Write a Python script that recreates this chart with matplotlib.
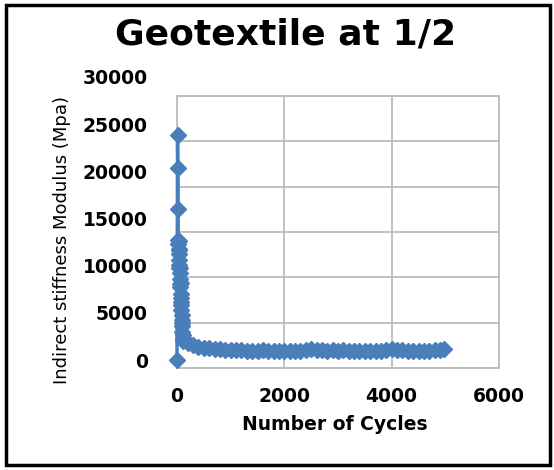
import matplotlib
matplotlib.use("Agg")
import matplotlib.pyplot as plt
from matplotlib.patches import Rectangle

plt.rcParams['font.family'] = ['DejaVu Sans']

# readings: first points, then the dense early cluster, then the long tail
cycles_start = [0, 10, 15, 20]
modulus_start = [0, 23900, 20400, 16000]

cycles_cluster = [22, 25, 28, 30, 33, 36, 40, 43, 46, 50, 53, 56, 60, 63, 66,
                  70, 73, 76, 80, 83, 86, 90, 93, 96, 100, 105, 110, 115, 120]
modulus_cluster = [12700, 12300, 12600, 11800, 11200, 11700, 10600, 10100, 9700,
                   9200, 9800, 8600, 8100, 7700, 8200, 7000, 6600, 6100, 5800,
                   5300, 4800, 4200, 3600, 3900, 3000, 2600, 2300, 2000, 2200]

cycles_tail = [200, 300, 400, 500, 600, 700, 800, 900, 1000, 1100, 1200, 1300,
               1400, 1500, 1600, 1700, 1800, 1900, 2000, 2100, 2200, 2300, 2400,
               2500, 2600, 2700, 2800, 2900, 3000, 3100, 3200, 3300, 3400, 3500,
               3600, 3700, 3800, 3900, 4000, 4100, 4200, 4300, 4400, 4500, 4600,
               4700, 4800, 4900, 4980]
modulus_tail = [1800, 1600, 1400, 1300, 1250, 1200, 1150, 1100, 1100, 1050, 1050,
                1000, 1000, 1000, 1050, 1000, 1000, 950, 1000, 950, 1000, 1000,
                1050, 1200, 1100, 1050, 1000, 1050, 1000, 1050, 1000, 950, 1000,
                950, 950, 950, 1000, 1050, 1150, 1100, 1050, 1000, 950, 950,
                1000, 1000, 1050, 1100, 1150]

x_ticks = [0, 2000, 4000, 6000]
y_ticks = [0, 5000, 10000, 15000, 20000, 25000, 30000]

cycles = cycles_start + cycles_cluster + cycles_tail
modulus = modulus_start + modulus_cluster + modulus_tail

W, H = 554, 470
fig = plt.figure(figsize=(W / 100, H / 100), dpi=100)

def box(l, t, r, b):
    return [l / W, 1 - b / H, (r - l) / W, (b - t) / H]

# plot frame with gridlines
ax = fig.add_axes(box(177, 96, 499, 368))
ax.set_xlim(0, 6000)
ax.set_ylim(0, 30000)
ax.set_xticks(x_ticks)
ax.set_yticks(y_ticks)
ax.set_yticklabels([])
ax.grid(True, color='#bdbdbd', linewidth=1.3)
ax.tick_params(length=0, pad=14)
for s in ax.spines.values():
    s.set_color('#bdbdbd')
    s.set_linewidth(1.3)
for lab in ax.get_xticklabels():
    lab.set_fontsize(13.5)
    lab.set_fontweight('bold')

# data layer (value axis as drawn in the original)
ax2 = fig.add_axes(box(177, 77, 499, 360))
ax2.patch.set_visible(False)
ax2.set_xlim(0, 6000)
ax2.set_ylim(0, 30000)
ax2.set_xticks([])
ax2.set_yticks(y_ticks)
ax2.tick_params(length=0, pad=21)
for s in ax2.spines.values():
    s.set_visible(False)
for lab in ax2.get_yticklabels():
    lab.set_fontsize(13.5)
    lab.set_fontweight('bold')
ax2.plot(cycles, modulus, color='#4a7ebb', linewidth=2.5, marker='D',
         markersize=8.5, markeredgecolor='#4a7ebb', clip_on=False)

fig.text(286 / W, 1 - 34 / H, 'Geotextile at 1/2', fontsize=26,
         fontweight='bold', ha='center', va='center')
fig.text(62 / W, 1 - 240 / H, 'Indirect stiffness Modulus (Mpa)', fontsize=13,
         rotation=90, ha='center', va='center')
fig.text(335 / W, 1 - 425 / H, 'Number of Cycles', fontsize=13.5,
         fontweight='bold', ha='center', va='center')

fig.patches.append(Rectangle((6 / W, 1 - 465 / H), 544 / W, 460 / H,
                             transform=fig.transFigure, fill=False,
                             edgecolor='black', linewidth=2.5))

fig.savefig('out.png', dpi=100)
